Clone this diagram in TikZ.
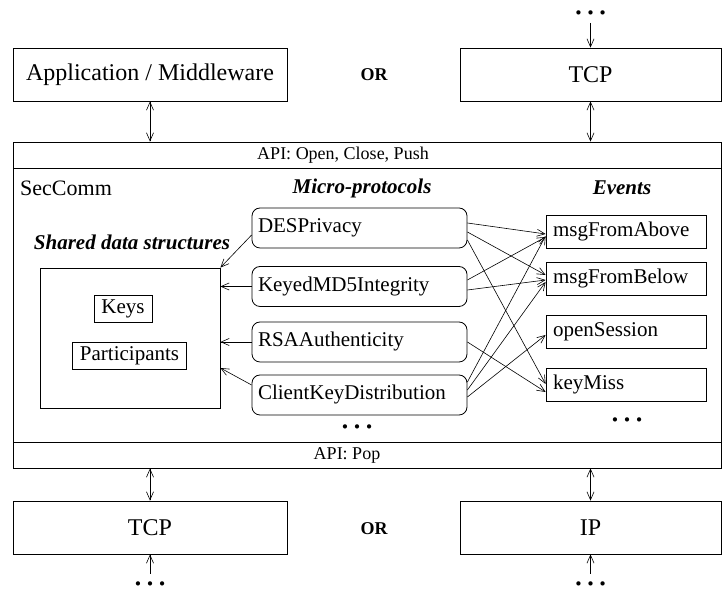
\documentclass[tikz,border=0pt]{standalone}
\usepackage{fontspec}
\setmainfont{Liberation Serif}
\usetikzlibrary{arrows.meta}

\tikzset{
  layer/.style={draw, line width=0.8pt, minimum width=#1, minimum height=53pt, inner sep=0pt, font=\fontsize{24}{28}\selectfont},
  bar/.style={draw, line width=0.8pt, minimum width=708pt, minimum height=#1, inner sep=0pt},
  apitext/.style={inner sep=0pt, font=\fontsize{18}{21}\selectfont},
  orlabel/.style={inner sep=0pt, font=\fontsize{18}{21}\selectfont\bfseries},
  head/.style={inner sep=0pt, font=\fontsize{21}{25}\selectfont\bfseries\itshape},
  micro/.style={draw, line width=0.8pt, rounded corners=8pt, text width=203pt, inner xsep=6pt, align=left, minimum height=40pt, text height=14pt, text depth=4pt, font=\fontsize{21}{25}\selectfont},
  event/.style={draw, line width=0.8pt, text width=146pt, inner xsep=7pt, align=left, minimum height=33pt, text height=14pt, text depth=4pt, font=\fontsize{21}{25}\selectfont},
  data/.style={draw, line width=0.8pt, inner xsep=7.5pt, minimum height=27pt, text height=14pt, text depth=4pt, font=\fontsize{21}{25}\selectfont},
  dots/.style={inner sep=0pt, outer sep=8pt, text height=4pt, text depth=0pt, font=\fontsize{36}{40}\selectfont},
  link/.style={line width=0.6pt},
}

\begin{document}
\begin{tikzpicture}[x=1pt, y=1pt, >={Straight Barb[length=8pt,width=7pt]}]
\useasboundingbox (0,0) rectangle (722,593);

%upper layer
\node[layer=274pt] (app) at (150,518.5) {Application / Middleware};
\node[orlabel] (ortop) at (374,518.5) {OR};
\node[layer=261pt] (tcptop) at (590.5,518.5) {TCP};
\node[dots] (dotstop) at (590.5,580) {\textellipsis};
\draw[->, link] (dotstop) -- (tcptop);

%seccomm
\node[bar=26pt] (apitop) at (367,438) {};
\node[apitext] (apitoptext) at (343,438) {API: Open, Close, Push};
\node[bar=274pt] (seccomm) at (367,288) {};
\node[bar=26pt] (apibot) at (367,138) {};
\node[apitext] (apibottext) at (347,138) {API: Pop};
\node[anchor=west, inner sep=0pt, font=\fontsize{22}{26}\selectfont] (seccommtext) at (20,405) {SecComm};
\draw[<->, link] (app.south) -- (app.south |- apitop.north);
\draw[<->, link] (tcptop.south) -- (tcptop.south |- apitop.north);

%headings
\node[head] (microhead) at (362,405) {Micro-protocols};
\node[head] (eventhead) at (622,405) {Events};
\node[head] (sharedhead) at (132,351) {Shared data structures};

%shared data
\node[draw, line width=0.8pt, minimum width=180pt, minimum height=140pt] (shared) at (130,255) {};
\node[data] (keys) at (123,284.5) {Keys};
\node[data] (parts) at (129.5,237) {Participants};

%micro-protocols
\node[micro] (des) at (359.5,365) {DESPrivacy};
\node[micro] (keyed) at (359.5,306.5) {KeyedMD5Integrity};
\node[micro] (rsa) at (359.5,251) {RSAAuthenticity};
\node[micro] (ckd) at (359.5,198) {ClientKeyDistribution};
\node[dots, outer sep=0pt] (microdots) at (357,166) {\textellipsis};

%events
\node[event] (above) at (626,361.5) {msgFromAbove};
\node[event] (below) at (626,314.5) {msgFromBelow};
\node[event] (open) at (626,261.5) {openSession};
\node[event] (miss) at (626,208) {keyMiss};
\node[dots, outer sep=0pt] (eventdots) at (627,173) {\textellipsis};

%micro -> shared
\draw[->, link] ([yshift=-7pt]des.west) -- (shared.north east);
\draw[->, link] (keyed.west) -- (keyed.west -| shared.east);
\draw[->, link] (rsa.west) -- (rsa.west -| shared.east);
\draw[->, link] ([yshift=10pt]ckd.west) -- ([yshift=-30pt]shared.east);

%micro -> events
\draw[->, link] ([yshift=5pt]des.east) -- ([yshift=-2.5pt]above.west);
\draw[->, link] ([yshift=-4pt]des.east) -- ([yshift=3.5pt]below.west);
\draw[->, link] ([yshift=-12pt]des.east) -- ([yshift=1pt]miss.west);
\draw[->, link] ([yshift=6.5pt]keyed.east) -- ([yshift=-5.5pt]above.west);
\draw[->, link] ([yshift=-3.5pt]keyed.east) -- ([yshift=-1.5pt]below.west);
\draw[->, link] (rsa.east) -- ([yshift=-7pt]miss.west);
\draw[->, link] ([yshift=13pt]ckd.east) -- ([yshift=-4.5pt]above.west);
\draw[->, link] ([yshift=5pt]ckd.east) -- ([yshift=-3.5pt]below.west);
\draw[->, link] ([yshift=-2pt]ckd.east) -- ([yshift=-3.5pt]open.west);

%lower layer
\node[layer=274pt] (tcpbot) at (150,65.5) {TCP};
\node[orlabel] (orbot) at (374,64) {OR};
\node[layer=261pt] (ip) at (590.5,65.5) {IP};
\node[dots] (dotsleft) at (150,9) {\textellipsis};
\node[dots] (dotsright) at (590.5,9) {\textellipsis};
\draw[<->, link] (tcpbot.north |- apibot.south) -- (tcpbot.north);
\draw[<->, link] (ip.north |- apibot.south) -- (ip.north);
\draw[->, link] (dotsleft) -- (tcpbot);
\draw[->, link] (dotsright) -- (ip);

\end{tikzpicture}
\end{document}
